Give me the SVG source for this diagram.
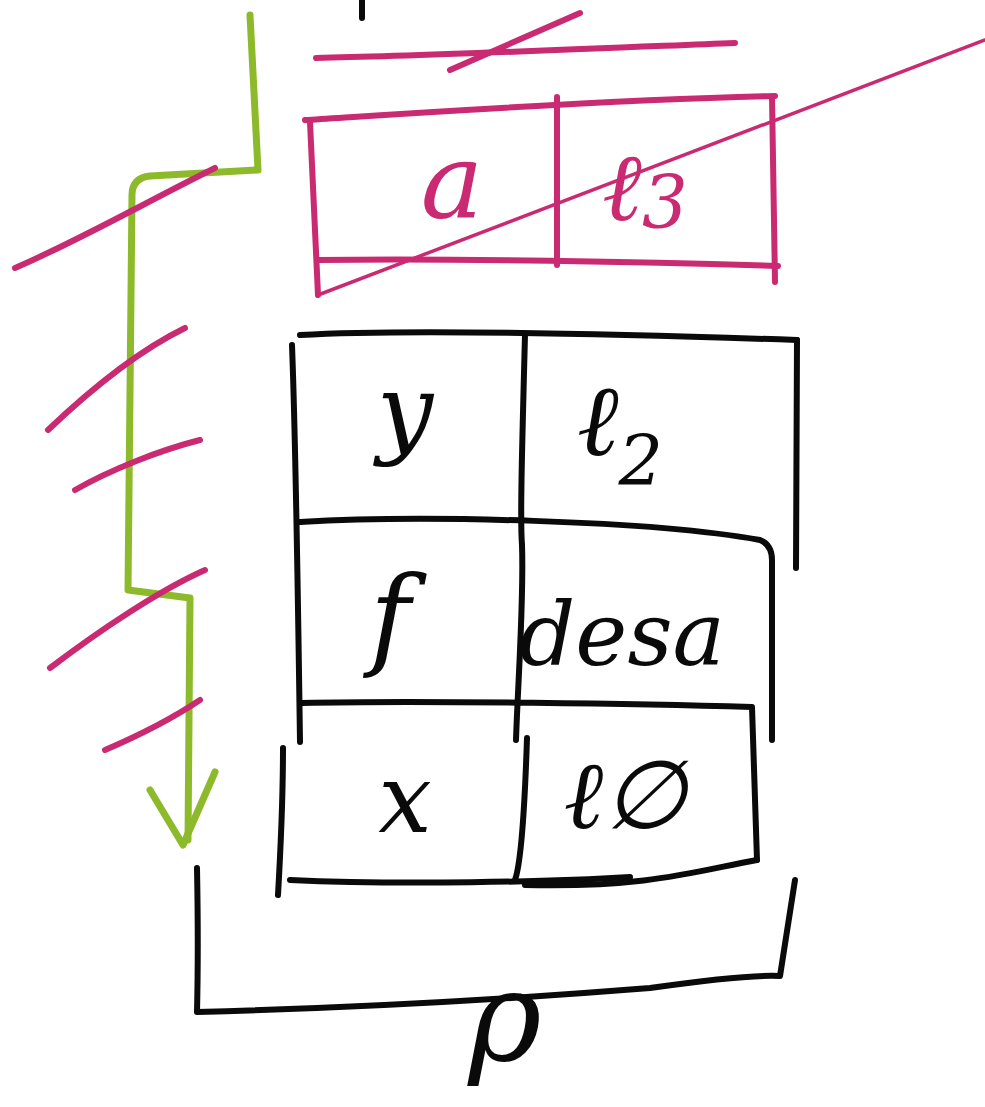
<svg xmlns="http://www.w3.org/2000/svg" width="985" height="1107" viewBox="0 0 985 1107">
<style>
.k{fill:none;stroke:#0a0a0a;stroke-width:6;stroke-linecap:round;stroke-linejoin:round}
.p{fill:none;stroke:#c92a72;stroke-width:6;stroke-linecap:round;stroke-linejoin:round}
.pt{fill:none;stroke:#c92a72;stroke-width:3.5;stroke-linecap:round}
.g{fill:none;stroke:#8dba2a;stroke-width:7;stroke-linecap:round;stroke-linejoin:round}
.tk{font-family:"DejaVu Serif",serif;font-style:italic;fill:#0a0a0a;text-anchor:middle}
.tp{font-family:"DejaVu Serif",serif;font-style:italic;fill:#c92a72;text-anchor:middle}
</style>
<rect width="985" height="1107" fill="#ffffff"/>
<path class="k" d="M362 0 L362 18"/>
<g id="pink-top">
<path class="p" d="M316 58 C420 56 560 50 735 43"/>
<path class="p" d="M450 70 L580 13"/>
</g>
<g id="node-a">
<path class="p" d="M305 120 C400 114 600 100 775 96"/>
<path class="p" d="M310 122 L318 295"/>
<path class="p" d="M318 260 C450 258 650 262 778 266"/>
<text class="tp" x="452" y="218" font-size="105">a</text>
</g>
<g id="node-l3">
<path class="p" d="M557 97 L557 265"/>
<path class="p" d="M772 97 L775 282"/>
<text class="tp" x="645" y="220" font-size="95">ℓ<tspan font-size="72" dy="8">3</tspan></text>
</g>
<path class="pt" d="M318 295 L985 40"/>
<g id="node-y">
<path class="k" d="M300 335 C420 328 650 335 797 340"/>
<path class="k" d="M292 345 C296 450 298 600 300 742"/>
<text class="tk" x="405" y="445" font-size="100">y</text>
</g>
<g id="node-l2">
<path class="k" d="M525 335 C522 450 520 520 522 545"/>
<path class="k" d="M797 340 L796 568"/>
<text class="tk" x="620" y="455" font-size="100">ℓ<tspan font-size="70" dy="30">2</tspan></text>
</g>
<g id="node-f">
<path class="k" d="M300 522 C420 515 650 520 760 540 Q772 545 772 560 L772 740"/>
<text class="tk" x="390" y="655" font-size="110">f</text>
</g>
<g id="node-desa">
<path class="k" d="M522 545 C524 600 518 680 516 740"/>
<text class="tk" x="622" y="665" font-size="88">desa</text>
</g>
<g id="node-x">
<path class="k" d="M302 703 C420 700 650 704 752 707 L757 860"/>
<path class="k" d="M283 748 C283 800 280 860 278 895"/>
<path class="k" d="M290 880 C400 885 550 882 630 877"/>
<text class="tk" x="405" y="832" font-size="95">x</text>
</g>
<g id="node-l0">
<path class="k" d="M527 738 C525 800 522 860 515 880"/>
<path class="k" d="M757 860 C700 870 650 888 525 885"/>
<text class="tk" x="625" y="828" font-size="95">ℓ∅</text>
</g>
<g id="node-rho">
<path class="k" d="M197 868 C198 920 198 970 197 1012 C350 1008 500 1000 650 988 C720 978 760 975 780 976 L795 880"/>
<text class="tk" x="505" y="1060" font-size="125">ρ</text>
</g>
<g id="connectors">
<path class="g" d="M250 15 L258 170 L150 176 Q132 178 132 195 L128 590 L190 598 L188 840"/>
<path class="g" d="M150 790 L183 845 L215 772"/>
</g>
<g id="strikes">
<path class="p" d="M15 268 C80 240 150 200 215 168"/>
<path class="p" d="M48 430 C90 390 140 350 185 328"/>
<path class="p" d="M75 490 C110 470 160 450 200 440"/>
<path class="p" d="M50 668 C100 630 160 590 205 570"/>
<path class="p" d="M105 750 C140 735 170 720 200 700"/>
</g>
</svg>
